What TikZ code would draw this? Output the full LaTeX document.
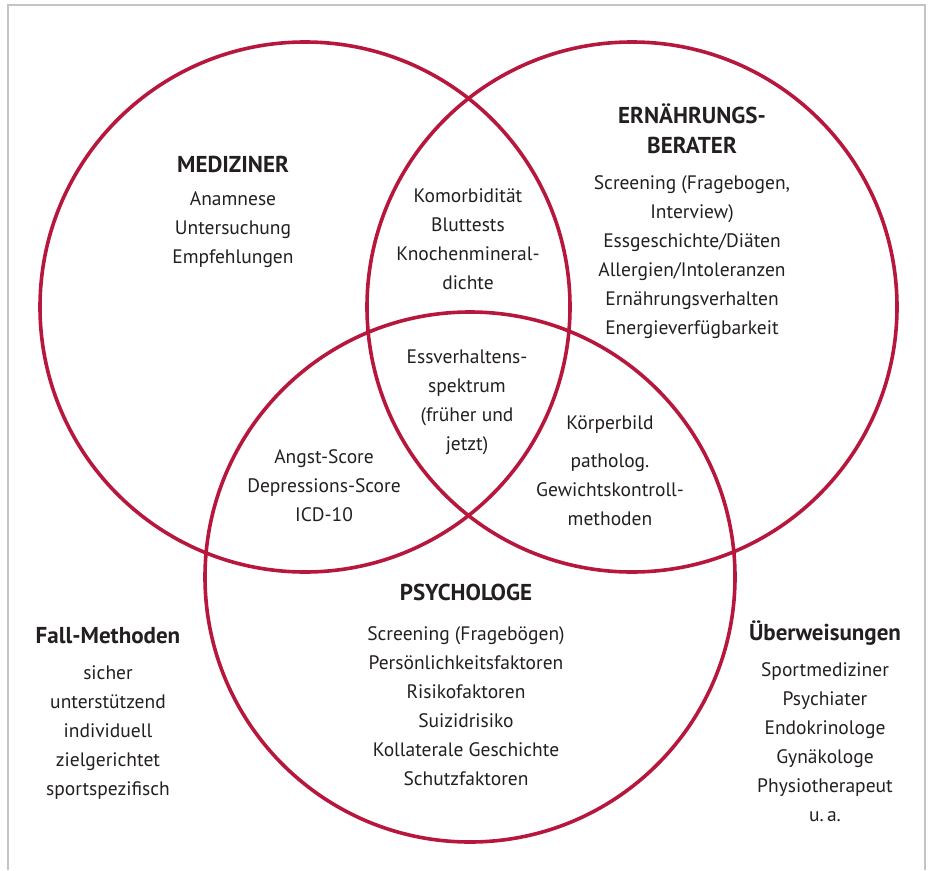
\documentclass[tikz,border=0pt]{standalone}
\usepackage{fontspec}
\setmainfont{PT Sans}
\usetikzlibrary{positioning}
\definecolor{vennred}{HTML}{B8173D}
\definecolor{framegray}{HTML}{C4C4C6}
\definecolor{ink}{HTML}{231F20}

\begin{document}
\begin{tikzpicture}[x=1pt, y=-1pt,
            ring/.style={draw=vennred, line width=3.6pt},
            head/.style={font=\fontsize{23}{30}\selectfont\bfseries, text=ink,
                         align=center, inner sep=0pt, anchor=base},
            entry/.style={font=\fontsize{19.5}{29}\selectfont, text=ink,
                          align=center, inner sep=0pt, anchor=base}]
        \useasboundingbox (0,0) rectangle (931,870);
        % frame, open at the bottom
        \draw[framegray, line width=2.5pt] (8,870) -- (8,5) -- (925,5) -- (925,870);

        % the three circles
        \coordinate (med) at (305,307);
        \coordinate (ern) at (632,307);
        \coordinate (psy) at (470,577);
        \foreach \c in {med,ern,psy}
            \draw[ring] (\c) circle [radius=265pt];

        % Mediziner (base = last line)
        \node[head] (medT) at (233,172) {MEDIZINER};
        \node[entry] (medL) at (233,263) {Anamnese\\Untersuchung\\Empfehlungen};

        % Ernaehrungsberater
        \node[head] (ernT) at (692,153) {ERNÄHRUNGS-\\BERATER};
        \node[entry] (ernL) at (692,334) {Screening (Fragebogen,\\Interview)\\Essgeschichte/Diäten\\Allergien/Intoleranzen\\Ernährungsverhalten\\Energieverfügbarkeit};

        % Psychologe
        \node[head] (psyT) at (466,600) {PSYCHOLOGE};
        \node[entry] (psyL) at (466,785) {Screening (Fragebögen)\\Persönlichkeitsfaktoren\\Risikofaktoren\\Suizidrisiko\\Kollaterale Geschichte\\Schutzfaktoren};

        % overlaps
        \node[entry] (medern) at (468,289) {Komorbidität\\Bluttests\\Knochenmineral-\\dichte};
        \node[entry] (allthree) at (467,450) {Essverhaltens-\\spektrum\\(früher und\\jetzt)};
        \node[entry] (medpsy) at (324,521) {Angst-Score\\Depressions-Score\\ICD-10};
        \node[entry] (ernpsyT) at (610,429) {Körperbild};
        \node[entry] (ernpsy) at (610,525) {patholog.\\Gewichtskontroll-\\methoden};

        % outside
        \node[head] (fallT) at (108,643) {Fall-Methoden};
        \node[entry] (fallL) at (108,795) {sicher\\unterstützend\\individuell\\zielgerichtet\\sportspezifisch};
        \node[head] (uebT) at (825,640) {Überweisungen};
        \node[entry] (uebL) at (825,821) {Sportmediziner\\Psychiater\\Endokrinologe\\Gynäkologe\\Physiotherapeut\\u.\,a.};
\end{tikzpicture}
\end{document}
